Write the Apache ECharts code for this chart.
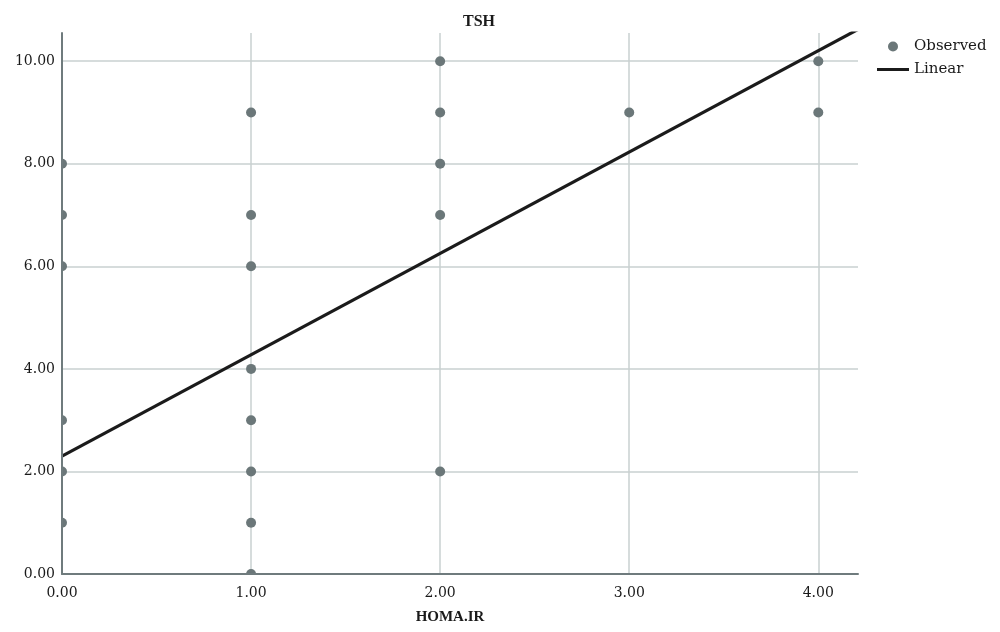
<!DOCTYPE html>
<html>
<head>
<meta charset="utf-8">
<script src="https://cdn.jsdelivr.net/npm/echarts@6/dist/echarts.min.js"></script>
<style>html,body{margin:0;padding:0;background:#fff}#c{width:1000px;height:632px}</style>
</head>
<body>
<div id="c"></div>
<script>
const titleText = 'TSH';
const xName = 'HOMA.IR';
const obsX = [0,0,0,0,0,0, 1,1,1,1,1,1,1,1, 2,2,2,2,2, 3, 4,4];
const obsY = [8,7,6,3,2,1, 9,7,6,4,3,2,1,0, 10,9,8,7,2, 9, 10,9];
const fitX = [0, 4.21];
const fitY = [2.30, 10.62];
const seriesNames = ['Observed', 'Linear'];
const xMin = 0, xMax = 4.21, xStep = 1;
const yMin = 0, yMax = 10.55, yStep = 2;

const font = 'DejaVu Serif';
const boldFont = 'Liberation Serif';
const gridColor = '#c9d1d1';
const axisColor = '#6f7b7d';
const fmt = v => v.toFixed(2);

const chart = echarts.init(document.getElementById('c'), null, {renderer: 'canvas'});
chart.setOption({
  animation: false,
  backgroundColor: '#ffffff',
  title: {
    text: titleText, left: 479, top: 14, textAlign: 'center', padding: 0,
    textStyle: {fontFamily: boldFont, fontSize: 16, fontWeight: 'bold', color: '#1a1a1a'}
  },
  legend: {
    orient: 'vertical', left: 877, top: 39, padding: 0, itemWidth: 32, itemHeight: 10, itemGap: 8,
    textStyle: {fontFamily: font, fontSize: 15, color: '#1a1a1a'},
    data: [
      {name: seriesNames[0], icon: 'circle', itemStyle: {color: '#6b7779'}},
      {name: seriesNames[1], icon: 'path://M0,0L0.01,0L0.01,0.01ZM0,10L0.01,10L0.01,9.99ZM0,3.4L32,3.4L32,6.6L0,6.6Z', itemStyle: {color: '#1b1b1b'}}
    ]
  },
  grid: {left: 62, right: 142, top: 33, bottom: 58},
  graphic: [
    {type: 'rect', left: 0, top: 0, shape: {width: 61, height: 632}, style: {fill: '#ffffff'}, z: 2.5, silent: true},
    {type: 'rect', left: 0, top: 575, shape: {width: 870, height: 57}, style: {fill: '#ffffff'}, z: 2.5, silent: true}
  ],
  xAxis: [
    {
      type: 'value', min: xMin, max: xMax, interval: xStep, z: 1, position: 'bottom',
      axisLine: {show: false}, axisTick: {show: false}, axisLabel: {show: false},
      splitLine: {show: true, showMaxLine: false, lineStyle: {color: gridColor, width: 1.5}}
    },
    {
      type: 'value', min: xMin, max: xMax, interval: xStep, z: 5, position: 'bottom', offset: 0,
      name: xName, nameLocation: 'middle', nameGap: 36,
      nameTextStyle: {fontFamily: boldFont, fontSize: 15, fontWeight: 'bold', color: '#1a1a1a', padding: [0, 20, 0, 0]},
      axisLine: {show: true, onZero: false, lineStyle: {color: axisColor, width: 2}},
      axisTick: {show: false},
      axisLabel: {fontFamily: font, fontSize: 14, color: '#1a1a1a', margin: 12, showMaxLabel: false, formatter: fmt},
      splitLine: {show: false}
    }
  ],
  yAxis: [
    {
      type: 'value', min: yMin, max: yMax, interval: yStep, z: 1, position: 'left',
      axisLine: {show: false}, axisTick: {show: false}, axisLabel: {show: false},
      splitLine: {show: true, showMaxLine: false, lineStyle: {color: gridColor, width: 1.5}}
    },
    {
      type: 'value', min: yMin, max: yMax, interval: yStep, z: 5, position: 'left', offset: 0,
      axisLine: {show: true, onZero: false, lineStyle: {color: axisColor, width: 2}},
      axisTick: {show: false},
      axisLabel: {fontFamily: font, fontSize: 14, color: '#1a1a1a', margin: 7, showMaxLabel: false, formatter: fmt},
      splitLine: {show: false}
    }
  ],
  series: [
    {
      name: seriesNames[0], type: 'scatter', clip: true, symbolSize: 10, z: 2,
      xAxisIndex: 0, yAxisIndex: 0,
      itemStyle: {color: '#6b7779', opacity: 1},
      data: obsX.map((x, i) => [x, obsY[i]])
    },
    {
      name: seriesNames[1], type: 'line', clip: true, symbol: 'none', z: 4,
      xAxisIndex: 0, yAxisIndex: 0,
      lineStyle: {color: '#1b1b1b', width: 3.2},
      itemStyle: {color: '#1b1b1b'},
      data: fitX.map((x, i) => [x, fitY[i]])
    }
  ]
});
</script>
</body>
</html>
